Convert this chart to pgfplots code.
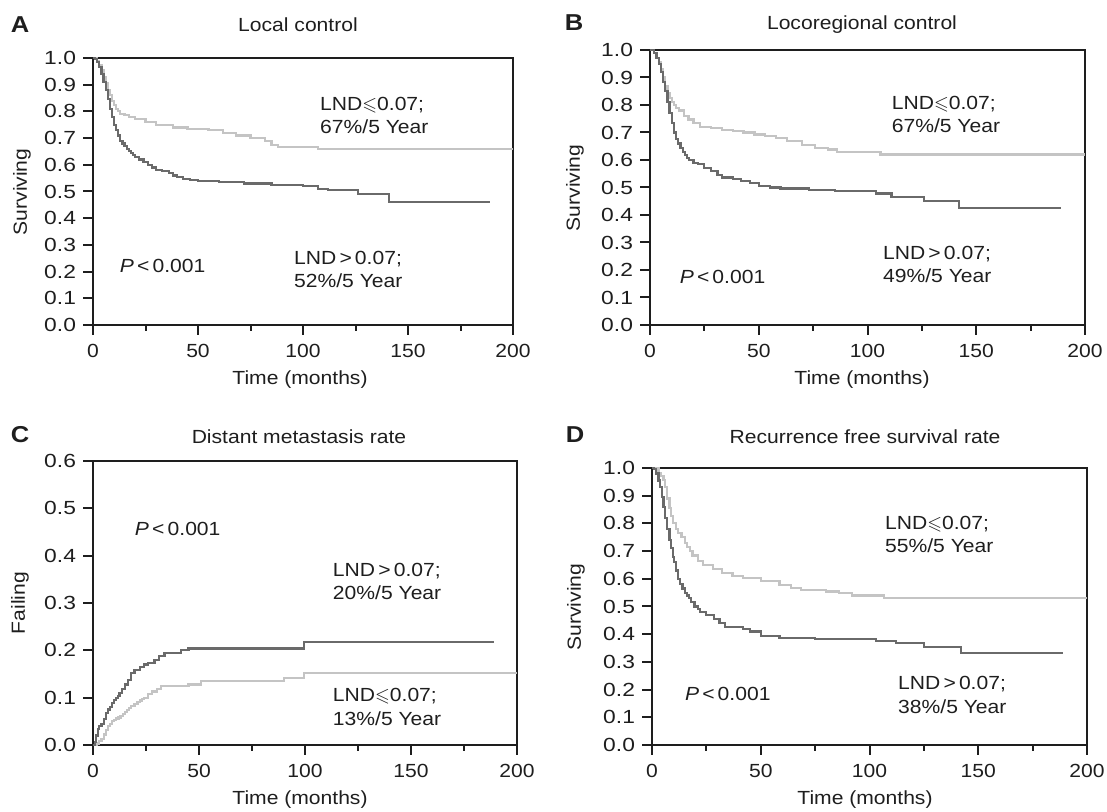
\documentclass[border=0pt]{standalone}
\usepackage{amssymb}
\usepackage{fontspec}
\setmainfont[FakeStretch=1.11]{Liberation Sans}
\newfontfamily\ytf[FakeStretch=1.2]{Liberation Sans}
\usepackage{pgfplots}
\pgfplotsset{compat=1.18}
\definecolor{dk}{HTML}{6A6A6A}
\definecolor{lt}{HTML}{C4C4C4}
\definecolor{ink}{HTML}{1E1E1E}
\newcommand{\fs}{\fontsize{9.5}{11.7}\selectfont}
\newcommand{\lsq}{\(\leqslant\)}

\pgfplotsset{km/.style={
  scale only axis, clip=false,
  axis line style={line width=1pt,ink},
  xmin=0,xmax=200,xtick={0,50,...,200},minor xtick={25,75,125,175},
  tick align=outside,xtick pos=bottom,ytick pos=left,
  major tick length=5pt,minor tick length=3pt,
  tick style={line width=1pt,ink},
  tick label style={font=\fs,text=ink},
  /pgf/number format/assume math mode=true,
  yticklabel style={font=\fs\ytf,/pgf/number format/.cd,fixed,fixed zerofill,precision=1},
  xticklabel style={yshift=-1pt},
  every node/.append style={text=ink},
}}
\tikzset{ann/.style={anchor=west,align=left,inner sep=0pt,font=\fs,text=ink},
  dkl/.style={const plot,dk,line width=1.1pt},
  ltl/.style={const plot,lt,line width=1.1pt},
  lett/.style={font=\fontsize{11.5}{13}\selectfont\bfseries}}

\begin{document}
\begin{tikzpicture}
\useasboundingbox (0,0) rectangle (553.5pt,406pt);

% A: local control
\begin{axis}[km,at={(46.5pt,243.5pt)},width=210pt,height=133.5pt,
  ymin=0,ymax=1,ytick={0,0.1,...,1.01}]
\addplot[ltl] coordinates {(0,1.0)(2,0.99)(3,0.975)(4,0.955)(5,0.93)(6,0.905)(7,0.88)
  (8,0.86)(9,0.84)(10,0.825)(11,0.81)(12,0.80)(13,0.79)(15,0.785)(17,0.778)(20,0.77)
  (25,0.76)(30,0.75)(38,0.74)(45,0.735)(55,0.73)(62,0.72)(68,0.71)
  (75,0.70)(82,0.69)(85,0.675)(88,0.667)(107,0.66)(200,0.66)};
\addplot[dkl] coordinates {(0,1.0)(1,0.995)(2,0.985)(3,0.965)(4,0.94)(5,0.91)(6,0.88)
  (7,0.845)(8,0.81)(9,0.78)(10,0.75)(11,0.73)(12,0.71)(13,0.69)(14,0.68)(15,0.67)
  (16,0.66)(17,0.652)(18,0.645)(19,0.637)(20,0.63)(22,0.62)(24,0.61)(26,0.60)(28,0.59)
  (30,0.58)(33,0.578)(36,0.57)(38,0.56)(40,0.555)(43,0.548)(46,0.543)(50,0.54)
  (60,0.535)(72,0.53)(85,0.525)(100,0.52)(107,0.51)(112,0.505)
  (126,0.49)(141,0.46)(189,0.46)};
\node[ann] at (axis cs:108,0.784) {LND\lsq0.07;\\67\%/5 Year};
\node[ann] at (axis cs:95.6,0.207) {LND\,>\,0.07;\\52\%/5 Year};
\node[ann] at (axis cs:12.6,0.22) {\textit{P}\,<\,0.001};
\end{axis}

% B: locoregional control
\begin{axis}[km,at={(325pt,243.5pt)},width=217.5pt,height=137.5pt,
  ymin=0,ymax=1,ytick={0,0.1,...,1.01}]
\addplot[ltl] coordinates {(0,1.0)(2,0.99)(3,0.97)(4,0.955)(5,0.93)(6,0.90)(7,0.87)
  (8,0.845)(9,0.825)(10,0.81)(11,0.80)(12,0.79)(13.5,0.78)
  (15.5,0.76)(17.7,0.747)(20,0.735)(23,0.72)(28,0.715)(33,0.71)(38,0.705)(43,0.70)
  (48,0.693)(53,0.687)(58,0.68)(63,0.67)(70,0.654)(76,0.645)(82,0.638)(86,0.63)
  (106,0.62)(200,0.62)};
\addplot[dkl] coordinates {(0,1.0)(2,0.99)(3,0.97)(4,0.95)(5,0.92)(6,0.885)(7,0.85)
  (8,0.81)(9,0.77)(10,0.735)(11,0.70)(12,0.675)(13,0.66)(14,0.645)(15,0.63)(16,0.618)
  (17,0.608)(18,0.60)(20,0.59)(22,0.584)(25,0.57)(28,0.56)(31,0.545)(33,0.536)(38,0.53)
  (42,0.524)(46,0.515)(50,0.506)(55,0.50)(60,0.496)(73,0.49)(85,0.488)(104,0.478)
  (111,0.466)(126,0.452)(142,0.425)(189,0.425)};
\node[ann] at (axis cs:111,0.765) {LND\lsq0.07;\\67\%/5 Year};
\node[ann] at (axis cs:107,0.22) {LND\,>\,0.07;\\49\%/5 Year};
\node[ann] at (axis cs:13.5,0.175) {\textit{P}\,<\,0.001};
\end{axis}

% C: distant metastasis
\begin{axis}[km,at={(46.5pt,33.5pt)},width=212pt,height=142pt,
  ymin=0,ymax=0.6,ytick={0,0.1,...,0.61}]
\addplot[ltl] coordinates {(0,0)(2,0.003)(3,0.008)(4,0.013)(5,0.022)(6,0.032)(7,0.04)
  (8,0.045)(9,0.05)(10,0.053)(11,0.056)(12,0.058)(13,0.061)(14,0.066)(15,0.07)(16,0.074)
  (17,0.078)(18,0.082)(19.6,0.086)(21,0.09)(22,0.094)(23,0.097)(24,0.1)(26,0.107)
  (28,0.113)(30,0.118)(32,0.124)(45,0.128)(51,0.135)(90,0.142)(99.6,0.152)(200,0.152)};
\addplot[dkl] coordinates {(0,0)(1,0.007)(1.5,0.02)(2.4,0.033)(3,0.04)(4,0.045)(5,0.055)
  (6,0.068)(7,0.075)(8,0.08)(9,0.088)(10,0.095)(11,0.1)(11.8,0.103)(12.5,0.11)
  (13.5,0.118)(15,0.128)(16.5,0.138)(18,0.152)(19.6,0.159)(22,0.165)
  (24,0.17)(26,0.173)(29,0.18)(31,0.188)(33.7,0.194)(41.6,0.20)(45,0.204)(99.6,0.218)
  (189,0.218)};
\node[ann] at (axis cs:19.6,0.456) {\textit{P}\,<\,0.001};
\node[ann] at (axis cs:113,0.346) {LND\,>\,0.07;\\20\%/5 Year};
\node[ann] at (axis cs:113,0.08) {LND\lsq0.07;\\13\%/5 Year};
\end{axis}

% D: recurrence free survival
\begin{axis}[km,at={(326pt,33.5pt)},width=217.5pt,height=138.5pt,
  ymin=0,ymax=1,ytick={0,0.1,...,1.01}]
\addplot[ltl] coordinates {(0,1.0)(3,0.98)(4,0.97)(5.3,0.956)(6,0.93)(7,0.89)(8,0.855)
  (8.7,0.826)(9.5,0.80)(11,0.78)(12,0.765)(13.6,0.75)(15,0.73)(16,0.715)(17.5,0.70)
  (18.6,0.684)(21,0.665)(23.6,0.65)(28,0.635)(32,0.62)(37,0.61)
  (42,0.604)(50,0.592)(58.6,0.578)(64,0.568)(68.5,0.56)(80,0.554)(86,0.548)(91.8,0.54)
  (106.8,0.532)(200,0.532)};
\addplot[dkl] coordinates {(0,1.0)(1,0.995)(2,0.98)(3,0.955)(3.5,0.93)(4.5,0.895)
  (5.3,0.86)(6,0.82)(7,0.78)(8,0.74)(8.7,0.71)(9.5,0.68)(10,0.66)(11,0.63)(12,0.60)
  (13,0.58)(14,0.565)(15,0.55)(16,0.54)(17,0.53)(18,0.515)(19.5,0.50)(21,0.49)(22,0.48)
  (25,0.47)(28.6,0.455)(31,0.44)(33.6,0.425)(42,0.42)(45,0.41)(50,0.394)(58.6,0.386)
  (75,0.382)(103,0.376)(112,0.367)(125,0.353)(142,0.331)(189,0.331)};
\node[ann] at (axis cs:107,0.761) {LND\lsq0.07;\\55\%/5 Year};
\node[ann] at (axis cs:113,0.181) {LND\,>\,0.07;\\38\%/5 Year};
\node[ann] at (axis cs:15,0.185) {\textit{P}\,<\,0.001};
\end{axis}

% titles, panel letters, axis labels
\begin{scope}[every node/.style={font=\fs,text=ink,inner sep=0pt}]
\node[lett] at (10pt,393.5pt) {A};
\node[lett] at (287pt,394.5pt) {B};
\node[lett] at (10pt,188.5pt) {C};
\node[lett] at (287.5pt,188.5pt) {D};
\node at (149pt,393.5pt) {Local control};
\node at (431pt,393.5pt) {Locoregional control};
\node at (149.5pt,187.5pt) {Distant metastasis rate};
\node at (432.5pt,187.5pt) {Recurrence free survival rate};
\node[rotate=90] at (11pt,310pt) {Surviving};
\node[rotate=90] at (287.5pt,312pt) {Surviving};
\node[rotate=90] at (10pt,104.5pt) {Failing};
\node[rotate=90] at (288pt,102.5pt) {Surviving};
\node at (150pt,216pt) {Time (months)};
\node at (431pt,216pt) {Time (months)};
\node at (150pt,6pt) {Time (months)};
\node at (432.5pt,6pt) {Time (months)};
\end{scope}
\end{tikzpicture}
\end{document}
